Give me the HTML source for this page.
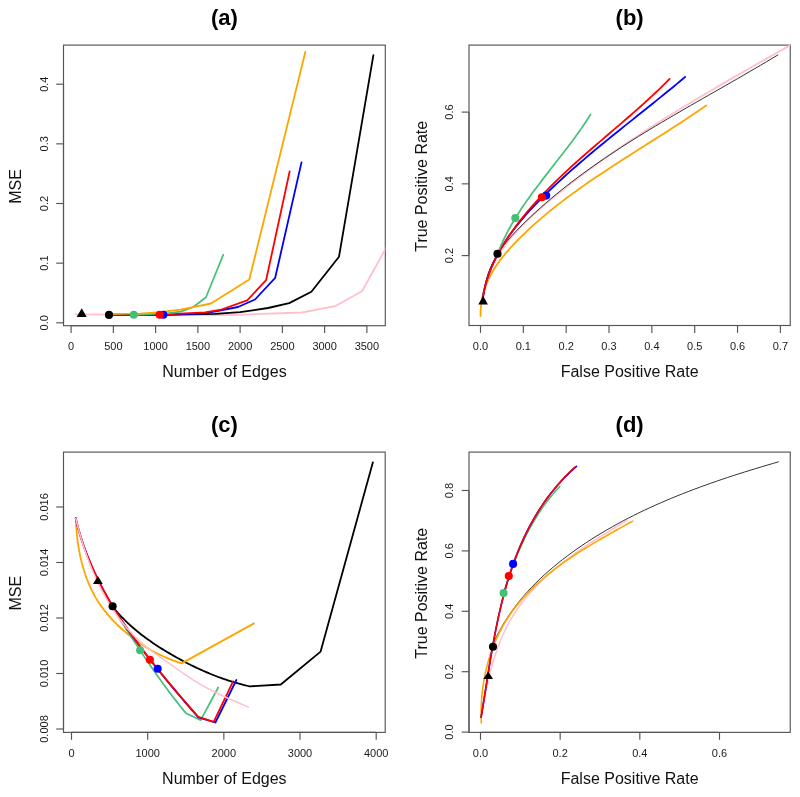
<!DOCTYPE html>
<html><head><meta charset="utf-8"><style>
html,body{margin:0;padding:0;background:#fff;width:800px;height:797px;overflow:hidden;}
svg{display:block;font-family:"Liberation Sans", sans-serif;will-change:transform;}
</style></head><body>
<svg width="800" height="797" viewBox="0 0 800 797" font-family='"Liberation Sans", sans-serif'>
<rect width="800" height="797" fill="#fff"/>
<clipPath id="ca"><rect x="63.5" y="45.1" width="321.8" height="280.6"/></clipPath>
<rect x="63.5" y="45.1" width="321.8" height="280.6" fill="none" stroke="#555555" stroke-width="1.15"/>
<path d="M71.1 325.7 H366.88" stroke="#555555" stroke-width="1.15"/>
<path d="M71.1 325.7 V333.1" stroke="#555555" stroke-width="1.15"/>
<text x="71.1" y="350.1" font-size="11" text-anchor="middle" font-weight="normal" fill="#1a1a1a">0</text>
<path d="M113.35 325.7 V333.1" stroke="#555555" stroke-width="1.15"/>
<text x="113.35" y="350.1" font-size="11" text-anchor="middle" font-weight="normal" fill="#1a1a1a">500</text>
<path d="M155.61 325.7 V333.1" stroke="#555555" stroke-width="1.15"/>
<text x="155.61" y="350.1" font-size="11" text-anchor="middle" font-weight="normal" fill="#1a1a1a">1000</text>
<path d="M197.87 325.7 V333.1" stroke="#555555" stroke-width="1.15"/>
<text x="197.87" y="350.1" font-size="11" text-anchor="middle" font-weight="normal" fill="#1a1a1a">1500</text>
<path d="M240.12 325.7 V333.1" stroke="#555555" stroke-width="1.15"/>
<text x="240.12" y="350.1" font-size="11" text-anchor="middle" font-weight="normal" fill="#1a1a1a">2000</text>
<path d="M282.38 325.7 V333.1" stroke="#555555" stroke-width="1.15"/>
<text x="282.38" y="350.1" font-size="11" text-anchor="middle" font-weight="normal" fill="#1a1a1a">2500</text>
<path d="M324.63 325.7 V333.1" stroke="#555555" stroke-width="1.15"/>
<text x="324.63" y="350.1" font-size="11" text-anchor="middle" font-weight="normal" fill="#1a1a1a">3000</text>
<path d="M366.88 325.7 V333.1" stroke="#555555" stroke-width="1.15"/>
<text x="366.88" y="350.1" font-size="11" text-anchor="middle" font-weight="normal" fill="#1a1a1a">3500</text>
<path d="M63.5 322.8 V84.2" stroke="#555555" stroke-width="1.15"/>
<path d="M63.5 322.8 H56.2" stroke="#555555" stroke-width="1.15"/>
<text x="0" y="0" transform="translate(47.5 322.8) rotate(-90)" font-size="11" text-anchor="middle" font-weight="normal" fill="#1a1a1a">0.0</text>
<path d="M63.5 263.15 H56.2" stroke="#555555" stroke-width="1.15"/>
<text x="0" y="0" transform="translate(47.5 263.15) rotate(-90)" font-size="11" text-anchor="middle" font-weight="normal" fill="#1a1a1a">0.1</text>
<path d="M63.5 203.5 H56.2" stroke="#555555" stroke-width="1.15"/>
<text x="0" y="0" transform="translate(47.5 203.5) rotate(-90)" font-size="11" text-anchor="middle" font-weight="normal" fill="#1a1a1a">0.2</text>
<path d="M63.5 143.85 H56.2" stroke="#555555" stroke-width="1.15"/>
<text x="0" y="0" transform="translate(47.5 143.85) rotate(-90)" font-size="11" text-anchor="middle" font-weight="normal" fill="#1a1a1a">0.3</text>
<path d="M63.5 84.2 H56.2" stroke="#555555" stroke-width="1.15"/>
<text x="0" y="0" transform="translate(47.5 84.2) rotate(-90)" font-size="11" text-anchor="middle" font-weight="normal" fill="#1a1a1a">0.4</text>
<text x="224.4" y="25.4" font-size="22" text-anchor="middle" font-weight="bold" fill="#000">(a)</text>
<text x="224.4" y="377" font-size="16" text-anchor="middle" font-weight="normal" fill="#111">Number of Edges</text>
<text x="0" y="0" transform="translate(21 186.4) rotate(-90)" font-size="16" text-anchor="middle" font-weight="normal" fill="#111">MSE</text>
<path d="M75.3 314.3 L160 314.8 L230 315 L302 312.5 L335 306.2 L362 291.2 L395 232" fill="none" stroke="#ffc0cb" stroke-width="1.8" stroke-linejoin="round" stroke-linecap="round" clip-path="url(#ca)"/>
<path d="M109 314.9 L160 314.8 L215 313.8 L240 312.2 L268 308 L289.2 303.1 L311.4 291.8 L339 256.7 L373.4 55.1" fill="none" stroke="#000000" stroke-width="1.8" stroke-linejoin="round" stroke-linecap="round"/>
<path d="M163.4 314.8 L205 313.3 L238 307 L255 299.5 L275.2 277.8 L301.5 162.4" fill="none" stroke="#0000ff" stroke-width="1.8" stroke-linejoin="round" stroke-linecap="round"/>
<path d="M159.7 314.8 L180 313.6 L205 312.3 L220 310 L247.2 300.3 L266.1 280.2 L289.7 171.3" fill="none" stroke="#ff0000" stroke-width="1.8" stroke-linejoin="round" stroke-linecap="round"/>
<path d="M133.8 314.8 L166.9 313.4 L180.6 311.6 L193 307.2 L206 297.3 L223.2 254.9" fill="none" stroke="#45bf77" stroke-width="1.7" stroke-linejoin="round" stroke-linecap="round"/>
<path d="M109 314 L140 313.6 L160 312.2 L180.6 309.6 L194.4 306.8 L210.9 303.5 L249.3 279.5 L305.4 51.7" fill="none" stroke="#ffa500" stroke-width="1.8" stroke-linejoin="round" stroke-linecap="round"/>
<path d="M76.7 317 L86.7 317 L81.7 308.2 Z" fill="#000"/>
<circle cx="109" cy="314.9" r="4.05" fill="#000000"/>
<circle cx="133.8" cy="314.8" r="4.05" fill="#45bf77"/>
<circle cx="163.4" cy="314.8" r="4.05" fill="#0000ff"/>
<circle cx="159.7" cy="314.8" r="4.05" fill="#ff0000"/>
<clipPath id="cb"><rect x="469" y="45.1" width="321.25" height="280.4"/></clipPath>
<rect x="469" y="45.1" width="321.25" height="280.4" fill="none" stroke="#555555" stroke-width="1.15"/>
<path d="M480.5 325.5 H780.38" stroke="#555555" stroke-width="1.15"/>
<path d="M480.5 325.5 V332.9" stroke="#555555" stroke-width="1.15"/>
<text x="480.5" y="349.9" font-size="11" text-anchor="middle" font-weight="normal" fill="#1a1a1a">0.0</text>
<path d="M523.34 325.5 V332.9" stroke="#555555" stroke-width="1.15"/>
<text x="523.34" y="349.9" font-size="11" text-anchor="middle" font-weight="normal" fill="#1a1a1a">0.1</text>
<path d="M566.18 325.5 V332.9" stroke="#555555" stroke-width="1.15"/>
<text x="566.18" y="349.9" font-size="11" text-anchor="middle" font-weight="normal" fill="#1a1a1a">0.2</text>
<path d="M609.02 325.5 V332.9" stroke="#555555" stroke-width="1.15"/>
<text x="609.02" y="349.9" font-size="11" text-anchor="middle" font-weight="normal" fill="#1a1a1a">0.3</text>
<path d="M651.86 325.5 V332.9" stroke="#555555" stroke-width="1.15"/>
<text x="651.86" y="349.9" font-size="11" text-anchor="middle" font-weight="normal" fill="#1a1a1a">0.4</text>
<path d="M694.7 325.5 V332.9" stroke="#555555" stroke-width="1.15"/>
<text x="694.7" y="349.9" font-size="11" text-anchor="middle" font-weight="normal" fill="#1a1a1a">0.5</text>
<path d="M737.54 325.5 V332.9" stroke="#555555" stroke-width="1.15"/>
<text x="737.54" y="349.9" font-size="11" text-anchor="middle" font-weight="normal" fill="#1a1a1a">0.6</text>
<path d="M780.38 325.5 V332.9" stroke="#555555" stroke-width="1.15"/>
<text x="780.38" y="349.9" font-size="11" text-anchor="middle" font-weight="normal" fill="#1a1a1a">0.7</text>
<path d="M469 255.6 V112.1" stroke="#555555" stroke-width="1.15"/>
<path d="M469 255.6 H461.7" stroke="#555555" stroke-width="1.15"/>
<text x="0" y="0" transform="translate(453 255.6) rotate(-90)" font-size="11" text-anchor="middle" font-weight="normal" fill="#1a1a1a">0.2</text>
<path d="M469 183.85 H461.7" stroke="#555555" stroke-width="1.15"/>
<text x="0" y="0" transform="translate(453 183.85) rotate(-90)" font-size="11" text-anchor="middle" font-weight="normal" fill="#1a1a1a">0.4</text>
<path d="M469 112.1 H461.7" stroke="#555555" stroke-width="1.15"/>
<text x="0" y="0" transform="translate(453 112.1) rotate(-90)" font-size="11" text-anchor="middle" font-weight="normal" fill="#1a1a1a">0.6</text>
<text x="629.62" y="25.4" font-size="22" text-anchor="middle" font-weight="bold" fill="#000">(b)</text>
<text x="629.62" y="376.8" font-size="16" text-anchor="middle" font-weight="normal" fill="#111">False Positive Rate</text>
<text x="0" y="0" transform="translate(426.5 186.3) rotate(-90)" font-size="16" text-anchor="middle" font-weight="normal" fill="#111">True Positive Rate</text>
<path d="M480.53 316.06 L480.62 310.26 L481.12 304.62 L481.98 299.15 L483.2 293.84 L484.75 288.69 L486.61 283.68 L488.76 278.81 L491.17 274.08 L493.84 269.49 L496.72 265.02 L499.8 260.67 L503.07 256.43 L506.49 252.29 L510.04 248.24 L513.7 244.28 L517.46 240.39 L521.28 236.57 L525.16 232.81 L529.09 229.11 L533.07 225.46 L537.1 221.87 L541.17 218.33 L545.29 214.84 L549.46 211.4 L553.66 208.01 L557.9 204.66 L562.18 201.35 L566.5 198.09 L570.84 194.86 L575.22 191.66 L579.62 188.5 L584.05 185.37 L588.51 182.28 L592.98 179.21 L597.48 176.16 L602 173.14 L606.53 170.14 L611.07 167.16 L615.63 164.2 L620.2 161.25 L624.77 158.32 L629.36 155.4 L633.94 152.48 L638.53 149.58 L643.12 146.68 L647.7 143.78 L652.29 140.88 L656.86 137.98 L661.43 135.08 L665.99 132.18 L670.53 129.26 L675.06 126.34 L679.58 123.41 L684.07 120.46 L688.55 117.49 L693 114.51 L697.43 111.51 L701.83 108.49 L706.21 105.45" fill="none" stroke="#ffa500" stroke-width="1.8" stroke-linejoin="round" stroke-linecap="round"/>
<path d="M482.31 302.07 L483.32 294.73 L484.78 287.67 L486.68 280.85 L488.98 274.27 L491.67 267.93 L494.71 261.79 L498.08 255.86 L501.76 250.12 L505.72 244.56 L509.94 239.16 L514.4 233.92 L519.06 228.81 L523.9 223.83 L528.9 218.97 L534.03 214.21 L539.27 209.53 L544.6 204.93 L549.98 200.4 L555.39 195.92 L560.85 191.49 L566.34 187.11 L571.86 182.78 L577.41 178.5 L582.99 174.26 L588.6 170.07 L594.25 165.92 L599.92 161.81 L605.61 157.75 L611.34 153.72 L617.08 149.73 L622.86 145.79 L628.65 141.87 L634.47 137.99 L640.31 134.15 L646.17 130.34 L652.05 126.55 L657.94 122.8 L663.86 119.08 L669.79 115.38 L675.74 111.71 L681.7 108.06 L687.67 104.44 L693.66 100.84 L699.65 97.26 L705.66 93.7 L711.68 90.16 L717.71 86.63 L723.74 83.12 L729.78 79.63 L735.83 76.15 L741.88 72.68 L747.94 69.22 L753.99 65.77 L760.05 62.33 L766.12 58.89 L772.18 55.47 L778.24 52.04 L784.29 48.62 L790.35 45.2" fill="none" stroke="#ffc0cb" stroke-width="1.8" stroke-linejoin="round" stroke-linecap="round" clip-path="url(#cb)"/>
<path d="M483.12 302.27 L483.61 295.29 L484.54 288.44 L485.91 281.74 L487.71 275.23 L489.96 268.91 L492.65 262.82 L495.78 256.98 L499.32 251.37 L503.21 245.97 L507.4 240.77 L511.83 235.72 L516.43 230.8 L521.16 225.99 L525.95 221.26 L530.82 216.61 L535.74 212.04 L540.73 207.53 L545.77 203.1 L550.87 198.74 L556.03 194.44 L561.24 190.21 L566.49 186.03 L571.8 181.92 L577.15 177.87 L582.54 173.87 L587.98 169.92 L593.46 166.02 L598.98 162.18 L604.53 158.38 L610.11 154.62 L615.73 150.9 L621.38 147.23 L627.05 143.59 L632.75 139.99 L638.48 136.42 L644.23 132.88 L649.99 129.37 L655.78 125.89 L661.58 122.43 L667.4 118.99 L673.22 115.58 L679.06 112.18 L684.9 108.79 L690.75 105.42 L696.61 102.06 L702.46 98.71 L708.32 95.37 L714.17 92.03 L720.02 88.69 L725.86 85.36 L731.69 82.02 L737.52 78.67 L743.33 75.32 L749.12 71.96 L754.9 68.59 L760.66 65.21 L766.4 61.81 L772.12 58.39 L777.82 54.96" fill="none" stroke="#333" stroke-width="1.0" stroke-linejoin="round" stroke-linecap="round"/>
<path d="M482.35 302.07 L483.06 296.65 L484 291.34 L485.16 286.13 L486.53 281.02 L488.11 276.01 L489.88 271.1 L491.84 266.27 L493.97 261.54 L496.27 256.89 L498.72 252.32 L501.31 247.84 L504.05 243.43 L506.91 239.09 L509.89 234.82 L512.97 230.62 L516.16 226.49 L519.44 222.41 L522.81 218.39 L526.26 214.43 L529.78 210.52 L533.37 206.66 L537.02 202.85 L540.72 199.08 L544.47 195.35 L548.25 191.66 L552.07 188.01 L555.91 184.39 L559.78 180.8 L563.68 177.24 L567.6 173.7 L571.53 170.2 L575.49 166.72 L579.47 163.26 L583.47 159.83 L587.48 156.42 L591.51 153.03 L595.55 149.65 L599.6 146.29 L603.66 142.95 L607.74 139.62 L611.82 136.3 L615.91 132.99 L620 129.69 L624.1 126.4 L628.2 123.12 L632.31 119.84 L636.41 116.56 L640.52 113.28 L644.62 110.01 L648.71 106.73 L652.81 103.45 L656.89 100.16 L660.97 96.87 L665.04 93.57 L669.1 90.26 L673.15 86.95 L677.18 83.62 L681.2 80.27 L685.21 76.91" fill="none" stroke="#0000ff" stroke-width="1.8" stroke-linejoin="round" stroke-linecap="round"/>
<path d="M482.22 302.02 L482.91 296.87 L483.81 291.81 L484.93 286.83 L486.25 281.94 L487.76 277.13 L489.45 272.4 L491.31 267.75 L493.32 263.17 L495.49 258.66 L497.79 254.22 L500.21 249.85 L502.75 245.54 L505.4 241.3 L508.14 237.11 L510.96 232.98 L513.86 228.91 L516.83 224.88 L519.87 220.91 L522.97 216.99 L526.15 213.11 L529.38 209.28 L532.67 205.5 L536.02 201.75 L539.42 198.05 L542.87 194.38 L546.36 190.75 L549.9 187.15 L553.48 183.59 L557.11 180.05 L560.76 176.54 L564.45 173.06 L568.17 169.61 L571.92 166.18 L575.69 162.77 L579.48 159.38 L583.29 156 L587.12 152.65 L590.96 149.3 L594.81 145.97 L598.67 142.65 L602.53 139.33 L606.4 136.02 L610.26 132.72 L614.12 129.42 L617.97 126.12 L621.81 122.82 L625.65 119.51 L629.46 116.21 L633.26 112.89 L637.03 109.57 L640.79 106.23 L644.51 102.89 L648.21 99.53 L651.87 96.15 L655.5 92.75 L659.09 89.34 L662.64 85.91 L666.15 82.45 L669.61 78.96" fill="none" stroke="#ff0000" stroke-width="1.8" stroke-linejoin="round" stroke-linecap="round"/>
<path d="M497.53 253.82 L498.58 251.14 L499.67 248.48 L500.79 245.85 L501.96 243.23 L503.15 240.64 L504.39 238.07 L505.65 235.52 L506.95 232.98 L508.28 230.47 L509.64 227.98 L511.03 225.5 L512.45 223.04 L513.9 220.59 L515.37 218.17 L516.86 215.75 L518.38 213.35 L519.92 210.97 L521.48 208.59 L523.07 206.23 L524.67 203.88 L526.29 201.55 L527.93 199.22 L529.58 196.9 L531.25 194.59 L532.93 192.29 L534.62 190 L536.33 187.71 L538.05 185.43 L539.77 183.16 L541.51 180.89 L543.25 178.63 L545 176.37 L546.75 174.11 L548.51 171.86 L550.27 169.6 L552.03 167.35 L553.8 165.1 L555.56 162.85 L557.32 160.6 L559.08 158.35 L560.84 156.09 L562.59 153.83 L564.34 151.57 L566.07 149.31 L567.81 147.04 L569.53 144.76 L571.24 142.48 L572.94 140.19 L574.63 137.9 L576.3 135.6 L577.96 133.28 L579.61 130.96 L581.24 128.63 L582.85 126.29 L584.44 123.94 L586.01 121.57 L587.57 119.2 L589.1 116.81 L590.6 114.4" fill="none" stroke="#45bf77" stroke-width="1.7" stroke-linejoin="round" stroke-linecap="round"/>
<path d="M478.3 304.4 L487.9 304.4 L483.1 295.8 Z" fill="#000"/>
<circle cx="497.5" cy="253.8" r="4.05" fill="#000000"/>
<circle cx="515.3" cy="218.1" r="4.05" fill="#45bf77"/>
<circle cx="546.2" cy="195.6" r="4.05" fill="#0000ff"/>
<circle cx="541.9" cy="197.2" r="4.05" fill="#ff0000"/>
<clipPath id="cc"><rect x="63.5" y="452.1" width="321.7" height="280.3"/></clipPath>
<rect x="63.5" y="452.1" width="321.7" height="280.3" fill="none" stroke="#555555" stroke-width="1.15"/>
<path d="M71.5 732.4 H376.2" stroke="#555555" stroke-width="1.15"/>
<path d="M71.5 732.4 V739.8" stroke="#555555" stroke-width="1.15"/>
<text x="71.5" y="756.8" font-size="11" text-anchor="middle" font-weight="normal" fill="#1a1a1a">0</text>
<path d="M147.68 732.4 V739.8" stroke="#555555" stroke-width="1.15"/>
<text x="147.68" y="756.8" font-size="11" text-anchor="middle" font-weight="normal" fill="#1a1a1a">1000</text>
<path d="M223.85 732.4 V739.8" stroke="#555555" stroke-width="1.15"/>
<text x="223.85" y="756.8" font-size="11" text-anchor="middle" font-weight="normal" fill="#1a1a1a">2000</text>
<path d="M300.02 732.4 V739.8" stroke="#555555" stroke-width="1.15"/>
<text x="300.02" y="756.8" font-size="11" text-anchor="middle" font-weight="normal" fill="#1a1a1a">3000</text>
<path d="M376.2 732.4 V739.8" stroke="#555555" stroke-width="1.15"/>
<text x="376.2" y="756.8" font-size="11" text-anchor="middle" font-weight="normal" fill="#1a1a1a">4000</text>
<path d="M63.5 729 V507" stroke="#555555" stroke-width="1.15"/>
<path d="M63.5 729 H56.2" stroke="#555555" stroke-width="1.15"/>
<text x="0" y="0" transform="translate(47.5 729) rotate(-90)" font-size="11" text-anchor="middle" font-weight="normal" fill="#1a1a1a">0.008</text>
<path d="M63.5 673.5 H56.2" stroke="#555555" stroke-width="1.15"/>
<text x="0" y="0" transform="translate(47.5 673.5) rotate(-90)" font-size="11" text-anchor="middle" font-weight="normal" fill="#1a1a1a">0.010</text>
<path d="M63.5 618 H56.2" stroke="#555555" stroke-width="1.15"/>
<text x="0" y="0" transform="translate(47.5 618) rotate(-90)" font-size="11" text-anchor="middle" font-weight="normal" fill="#1a1a1a">0.012</text>
<path d="M63.5 562.5 H56.2" stroke="#555555" stroke-width="1.15"/>
<text x="0" y="0" transform="translate(47.5 562.5) rotate(-90)" font-size="11" text-anchor="middle" font-weight="normal" fill="#1a1a1a">0.014</text>
<path d="M63.5 507 H56.2" stroke="#555555" stroke-width="1.15"/>
<text x="0" y="0" transform="translate(47.5 507) rotate(-90)" font-size="11" text-anchor="middle" font-weight="normal" fill="#1a1a1a">0.016</text>
<text x="224.35" y="432.4" font-size="22" text-anchor="middle" font-weight="bold" fill="#000">(c)</text>
<text x="224.35" y="783.7" font-size="16" text-anchor="middle" font-weight="normal" fill="#111">Number of Edges</text>
<text x="0" y="0" transform="translate(21 593.25) rotate(-90)" font-size="16" text-anchor="middle" font-weight="normal" fill="#111">MSE</text>
<path d="M112.51 606.44 L114.23 608.58 L116 610.69 L117.8 612.76 L119.63 614.79 L121.5 616.78 L123.4 618.74 L125.33 620.67 L127.29 622.56 L129.28 624.42 L131.3 626.24 L133.34 628.04 L135.42 629.8 L137.52 631.53 L139.64 633.24 L141.78 634.92 L143.95 636.57 L146.14 638.19 L148.36 639.79 L150.59 641.36 L152.84 642.91 L155.11 644.43 L157.39 645.93 L159.69 647.42 L162.01 648.87 L164.34 650.31 L166.68 651.73 L169.04 653.14 L171.41 654.52 L173.79 655.89 L176.17 657.24 L178.57 658.57 L180.98 659.88 L183.4 661.17 L185.83 662.45 L188.27 663.7 L190.72 664.93 L193.18 666.14 L195.64 667.33 L198.12 668.5 L200.61 669.64 L203.11 670.76 L205.61 671.86 L208.13 672.93 L210.66 673.98 L213.19 675 L215.73 676 L218.29 676.97 L220.85 677.91 L223.42 678.83 L226 679.72 L228.58 680.58 L231.18 681.41 L233.78 682.21 L236.4 682.98 L239.02 683.72 L241.65 684.43 L244.28 685.1 L246.93 685.75 L249.58 686.36 L280.8 684.5 L320.6 651.6 L372.9 462.3" fill="none" stroke="#000000" stroke-width="1.8" stroke-linejoin="round" stroke-linecap="round"/>
<path d="M75.81 518.3 L75.94 521.54 L76.11 524.79 L76.33 528.05 L76.59 531.31 L76.9 534.57 L77.26 537.83 L77.66 541.09 L78.12 544.34 L78.63 547.59 L79.19 550.83 L79.81 554.06 L80.49 557.27 L81.23 560.47 L82.02 563.65 L82.88 566.81 L83.81 569.95 L84.79 573.07 L85.85 576.15 L86.97 579.21 L88.17 582.24 L89.44 585.24 L90.78 588.2 L92.19 591.12 L93.68 594.01 L95.25 596.85 L96.9 599.65 L98.63 602.4 L100.44 605.11 L102.34 607.76 L104.32 610.37 L106.36 612.93 L108.48 615.43 L110.67 617.89 L112.91 620.3 L115.21 622.66 L117.56 624.98 L119.96 627.24 L122.4 629.46 L124.88 631.63 L127.39 633.76 L129.94 635.83 L132.52 637.86 L135.13 639.83 L137.78 641.74 L140.46 643.6 L143.18 645.4 L145.94 647.14 L148.73 648.81 L151.55 650.42 L154.41 651.96 L157.3 653.45 L160.22 654.88 L163.18 656.26 L166.17 657.57 L169.19 658.84 L172.24 660.05 L175.31 661.21 L178.42 662.32 L181.56 663.38 L254 623.4" fill="none" stroke="#ffa500" stroke-width="1.8" stroke-linejoin="round" stroke-linecap="round"/>
<path d="M115.13 611.92 L116.27 613.68 L117.4 615.44 L118.54 617.21 L119.68 618.97 L120.81 620.74 L121.95 622.5 L123.09 624.26 L124.22 626.03 L125.36 627.79 L126.5 629.55 L127.64 631.32 L128.78 633.08 L129.92 634.84 L131.07 636.6 L132.21 638.36 L133.36 640.12 L134.51 641.87 L135.66 643.63 L136.81 645.38 L137.97 647.14 L139.12 648.89 L140.28 650.64 L141.44 652.38 L142.61 654.13 L143.77 655.88 L144.94 657.62 L146.12 659.36 L147.29 661.1 L148.47 662.83 L149.66 664.57 L150.84 666.3 L152.03 668.02 L153.23 669.75 L154.43 671.47 L155.63 673.19 L156.84 674.91 L158.05 676.62 L159.26 678.33 L160.48 680.04 L161.71 681.74 L162.94 683.44 L164.17 685.14 L165.42 686.83 L166.66 688.52 L167.91 690.21 L169.17 691.89 L170.43 693.57 L171.7 695.24 L172.98 696.91 L174.26 698.57 L175.55 700.23 L176.84 701.89 L178.14 703.54 L179.45 705.19 L180.76 706.83 L182.08 708.46 L183.41 710.09 L184.75 711.72 L186.09 713.34 L200.7 720.2 L218.2 687.5" fill="none" stroke="#45bf77" stroke-width="1.7" stroke-linejoin="round" stroke-linecap="round"/>
<path d="M75.67 518.24 L76.61 522.16 L77.62 526.06 L78.68 529.93 L79.8 533.79 L80.98 537.63 L82.22 541.44 L83.51 545.24 L84.85 549.01 L86.25 552.77 L87.7 556.5 L89.2 560.21 L90.75 563.9 L92.35 567.57 L93.99 571.21 L95.69 574.84 L97.43 578.44 L99.21 582.02 L101.04 585.58 L102.9 589.11 L104.81 592.63 L106.76 596.12 L108.75 599.6 L110.77 603.05 L112.83 606.48 L114.93 609.9 L117.05 613.29 L119.21 616.66 L121.4 620.02 L123.62 623.36 L125.86 626.67 L128.14 629.97 L130.44 633.26 L132.76 636.52 L135.11 639.77 L137.47 643.01 L139.86 646.23 L142.27 649.44 L144.7 652.63 L147.14 655.81 L149.6 658.98 L152.07 662.14 L154.56 665.29 L157.06 668.43 L159.57 671.56 L162.09 674.68 L164.62 677.79 L167.16 680.89 L169.71 683.98 L172.28 687.06 L174.85 690.13 L177.43 693.2 L180.02 696.25 L182.61 699.29 L185.22 702.33 L187.84 705.35 L190.46 708.37 L193.1 711.37 L195.74 714.37 L198.39 717.35 L215.4 722.5 L236.4 680" fill="none" stroke="#0000ff" stroke-width="1.8" stroke-linejoin="round" stroke-linecap="round"/>
<path d="M75.68 518.25 L76.62 522.16 L77.61 526.05 L78.67 529.92 L79.78 533.77 L80.96 537.6 L82.19 541.41 L83.48 545.19 L84.82 548.95 L86.21 552.7 L87.66 556.42 L89.16 560.12 L90.71 563.8 L92.31 567.45 L93.96 571.09 L95.65 574.71 L97.38 578.3 L99.16 581.88 L100.99 585.43 L102.85 588.97 L104.76 592.48 L106.7 595.98 L108.68 599.45 L110.7 602.9 L112.75 606.33 L114.83 609.75 L116.95 613.14 L119.1 616.51 L121.28 619.87 L123.49 623.2 L125.73 626.52 L127.99 629.81 L130.28 633.09 L132.6 636.35 L134.93 639.59 L137.29 642.82 L139.68 646.03 L142.08 649.23 L144.51 652.41 L146.95 655.58 L149.41 658.74 L151.89 661.88 L154.38 665.01 L156.89 668.13 L159.41 671.24 L161.94 674.34 L164.49 677.43 L167.04 680.51 L169.61 683.58 L172.18 686.64 L174.77 689.7 L177.36 692.75 L179.95 695.79 L182.55 698.83 L185.15 701.86 L187.76 704.89 L190.37 707.91 L192.98 710.93 L195.58 713.95 L198.19 716.96 L213.7 721.9 L233.1 681.4" fill="none" stroke="#ff0000" stroke-width="1.8" stroke-linejoin="round" stroke-linecap="round"/>
<path d="M75.76 518.41 L76.84 522.73 L77.97 527.06 L79.15 531.4 L80.38 535.74 L81.66 540.09 L83.01 544.43 L84.41 548.76 L85.87 553.08 L87.4 557.39 L88.99 561.68 L90.64 565.96 L92.36 570.2 L94.15 574.42 L96.01 578.61 L97.94 582.76 L99.94 586.87 L102.02 590.94 L104.17 594.96 L106.4 598.93 L108.72 602.85 L111.11 606.71 L113.59 610.52 L116.15 614.25 L118.8 617.92 L121.54 621.52 L124.37 625.05 L127.29 628.49 L130.3 631.85 L133.41 635.13 L136.61 638.32 L139.92 641.41 L143.32 644.41 L146.82 647.31 L150.42 650.11 L154.09 652.84 L157.81 655.51 L161.57 658.14 L165.34 660.75 L169.1 663.36 L172.85 665.98 L176.56 668.61 L180.27 671.24 L183.98 673.85 L187.71 676.41 L191.47 678.91 L195.29 681.33 L199.17 683.66 L203.11 685.91 L207.09 688.08 L211.12 690.18 L215.19 692.22 L219.29 694.21 L223.42 696.15 L227.56 698.04 L231.73 699.9 L235.9 701.74 L240.08 703.56 L244.26 705.36 L248.42 707.16" fill="none" stroke="#ffc0cb" stroke-width="1.5" stroke-linejoin="round" stroke-linecap="round"/>
<path d="M93 584.1 L102.8 584.1 L97.9 575.9 Z" fill="#000"/>
<circle cx="112.6" cy="606.3" r="4.05" fill="#000000"/>
<circle cx="140.1" cy="650.2" r="4.05" fill="#45bf77"/>
<circle cx="149.9" cy="659.7" r="4.05" fill="#ff0000"/>
<circle cx="157.7" cy="668.8" r="4.05" fill="#0000ff"/>
<clipPath id="cd"><rect x="469" y="452.1" width="321.25" height="280.3"/></clipPath>
<rect x="469" y="452.1" width="321.25" height="280.3" fill="none" stroke="#555555" stroke-width="1.15"/>
<path d="M480.5 732.4 H719.48" stroke="#555555" stroke-width="1.15"/>
<path d="M480.5 732.4 V739.8" stroke="#555555" stroke-width="1.15"/>
<text x="480.5" y="756.8" font-size="11" text-anchor="middle" font-weight="normal" fill="#1a1a1a">0.0</text>
<path d="M560.16 732.4 V739.8" stroke="#555555" stroke-width="1.15"/>
<text x="560.16" y="756.8" font-size="11" text-anchor="middle" font-weight="normal" fill="#1a1a1a">0.2</text>
<path d="M639.82 732.4 V739.8" stroke="#555555" stroke-width="1.15"/>
<text x="639.82" y="756.8" font-size="11" text-anchor="middle" font-weight="normal" fill="#1a1a1a">0.4</text>
<path d="M719.48 732.4 V739.8" stroke="#555555" stroke-width="1.15"/>
<text x="719.48" y="756.8" font-size="11" text-anchor="middle" font-weight="normal" fill="#1a1a1a">0.6</text>
<path d="M469 732.1 V490.5" stroke="#555555" stroke-width="1.15"/>
<path d="M469 732.1 H461.7" stroke="#555555" stroke-width="1.15"/>
<text x="0" y="0" transform="translate(453 732.1) rotate(-90)" font-size="11" text-anchor="middle" font-weight="normal" fill="#1a1a1a">0.0</text>
<path d="M469 671.7 H461.7" stroke="#555555" stroke-width="1.15"/>
<text x="0" y="0" transform="translate(453 671.7) rotate(-90)" font-size="11" text-anchor="middle" font-weight="normal" fill="#1a1a1a">0.2</text>
<path d="M469 611.3 H461.7" stroke="#555555" stroke-width="1.15"/>
<text x="0" y="0" transform="translate(453 611.3) rotate(-90)" font-size="11" text-anchor="middle" font-weight="normal" fill="#1a1a1a">0.4</text>
<path d="M469 550.9 H461.7" stroke="#555555" stroke-width="1.15"/>
<text x="0" y="0" transform="translate(453 550.9) rotate(-90)" font-size="11" text-anchor="middle" font-weight="normal" fill="#1a1a1a">0.6</text>
<path d="M469 490.5 H461.7" stroke="#555555" stroke-width="1.15"/>
<text x="0" y="0" transform="translate(453 490.5) rotate(-90)" font-size="11" text-anchor="middle" font-weight="normal" fill="#1a1a1a">0.8</text>
<text x="629.62" y="432.4" font-size="22" text-anchor="middle" font-weight="bold" fill="#000">(d)</text>
<text x="629.62" y="783.7" font-size="16" text-anchor="middle" font-weight="normal" fill="#111">False Positive Rate</text>
<text x="0" y="0" transform="translate(426.5 593.25) rotate(-90)" font-size="16" text-anchor="middle" font-weight="normal" fill="#111">True Positive Rate</text>
<path d="M492.07 646.46 L494.51 640.91 L497.12 635.47 L499.9 630.16 L502.84 624.96 L505.95 619.88 L509.2 614.91 L512.6 610.05 L516.14 605.3 L519.81 600.65 L523.61 596.12 L527.53 591.68 L531.57 587.34 L535.71 583.1 L539.96 578.95 L544.31 574.9 L548.75 570.94 L553.27 567.07 L557.87 563.28 L562.55 559.58 L567.29 555.96 L572.1 552.42 L576.96 548.96 L581.87 545.58 L586.83 542.27 L591.83 539.03 L596.89 535.86 L601.99 532.77 L607.13 529.74 L612.31 526.78 L617.53 523.88 L622.79 521.05 L628.08 518.29 L633.41 515.58 L638.77 512.93 L644.16 510.34 L649.58 507.81 L655.03 505.33 L660.5 502.91 L666 500.54 L671.52 498.22 L677.06 495.95 L682.62 493.73 L688.19 491.56 L693.78 489.43 L699.39 487.34 L705 485.29 L710.63 483.29 L716.27 481.33 L721.91 479.4 L727.55 477.51 L733.2 475.65 L738.86 473.83 L744.51 472.04 L750.16 470.28 L755.81 468.55 L761.45 466.85 L767.08 465.17 L772.71 463.52 L778.33 461.89" fill="none" stroke="#333" stroke-width="1.0" stroke-linejoin="round" stroke-linecap="round"/>
<path d="M480.87 717.37 L481.59 713.17 L482.32 708.95 L483.09 704.72 L483.89 700.46 L484.73 696.2 L485.6 691.93 L486.52 687.65 L487.48 683.37 L488.49 679.09 L489.55 674.82 L490.66 670.55 L491.83 666.3 L493.05 662.06 L494.35 657.84 L495.71 653.65 L497.14 649.49 L498.65 645.36 L500.23 641.27 L501.91 637.22 L503.67 633.23 L505.52 629.29 L507.47 625.41 L509.52 621.59 L511.67 617.84 L513.93 614.17 L516.29 610.56 L518.74 607.02 L521.29 603.54 L523.92 600.13 L526.65 596.79 L529.45 593.5 L532.34 590.27 L535.29 587.11 L538.33 584 L541.42 580.94 L544.59 577.94 L547.81 574.99 L551.1 572.1 L554.43 569.25 L557.82 566.45 L561.25 563.7 L564.73 560.99 L568.25 558.33 L571.8 555.7 L575.38 553.12 L579 550.58 L582.64 548.08 L586.3 545.61 L589.98 543.18 L593.68 540.78 L597.38 538.41 L601.1 536.08 L604.81 533.77 L608.53 531.49 L612.25 529.24 L615.96 527.01 L619.66 524.8 L623.34 522.62 L627.01 520.45" fill="none" stroke="#ffc0cb" stroke-width="1.5" stroke-linejoin="round" stroke-linecap="round"/>
<path d="M481.3 722.92 L481.14 718.33 L481.08 713.73 L481.14 709.13 L481.3 704.52 L481.57 699.91 L481.94 695.31 L482.43 690.72 L483.03 686.14 L483.73 681.57 L484.55 677.03 L485.47 672.52 L486.51 668.03 L487.66 663.58 L488.92 659.17 L490.29 654.79 L491.77 650.47 L493.36 646.19 L495.07 641.96 L496.89 637.8 L498.83 633.69 L500.88 629.65 L503.04 625.68 L505.31 621.79 L507.71 617.97 L510.21 614.22 L512.82 610.56 L515.54 606.97 L518.36 603.46 L521.27 600.01 L524.28 596.64 L527.37 593.33 L530.55 590.09 L533.8 586.91 L537.14 583.8 L540.54 580.75 L544.01 577.76 L547.54 574.82 L551.13 571.94 L554.77 569.11 L558.47 566.34 L562.21 563.62 L565.99 560.94 L569.81 558.31 L573.67 555.73 L577.55 553.19 L581.46 550.69 L585.38 548.23 L589.33 545.81 L593.29 543.42 L597.25 541.07 L601.22 538.75 L605.19 536.46 L609.16 534.2 L613.12 531.97 L617.06 529.77 L620.99 527.58 L624.9 525.42 L628.78 523.28 L632.63 521.16" fill="none" stroke="#ffa500" stroke-width="1.6" stroke-linejoin="round" stroke-linecap="round"/>
<path d="M503.47 593.02 L504.09 591.07 L504.71 589.12 L505.34 587.18 L505.98 585.23 L506.62 583.28 L507.28 581.33 L507.94 579.39 L508.61 577.44 L509.29 575.5 L509.98 573.56 L510.68 571.62 L511.39 569.68 L512.11 567.74 L512.84 565.81 L513.59 563.88 L514.34 561.96 L515.1 560.04 L515.87 558.12 L516.66 556.2 L517.45 554.29 L518.26 552.39 L519.08 550.49 L519.91 548.6 L520.76 546.71 L521.62 544.83 L522.49 542.95 L523.37 541.08 L524.27 539.22 L525.18 537.36 L526.1 535.51 L527.04 533.67 L527.99 531.84 L528.95 530.02 L529.93 528.2 L530.93 526.39 L531.94 524.6 L532.96 522.81 L534 521.03 L535.06 519.26 L536.13 517.5 L537.22 515.75 L538.33 514.02 L539.45 512.29 L540.58 510.58 L541.74 508.87 L542.91 507.18 L544.1 505.51 L545.31 503.84 L546.53 502.19 L547.77 500.55 L549.03 498.92 L550.31 497.31 L551.61 495.71 L552.93 494.12 L554.26 492.55 L555.62 491 L556.99 489.46 L558.38 487.94 L559.8 486.43" fill="none" stroke="#45bf77" stroke-width="1.5" stroke-linejoin="round" stroke-linecap="round"/>
<path d="M481.12 717.24 L481.86 712.78 L482.59 708.29 L483.32 703.79 L484.04 699.27 L484.75 694.74 L485.47 690.19 L486.19 685.63 L486.91 681.06 L487.64 676.48 L488.37 671.89 L489.11 667.3 L489.87 662.7 L490.64 658.09 L491.42 653.48 L492.22 648.88 L493.05 644.27 L493.89 639.66 L494.76 635.06 L495.65 630.46 L496.58 625.87 L497.53 621.28 L498.51 616.7 L499.53 612.14 L500.59 607.58 L501.68 603.04 L502.82 598.51 L503.99 594 L505.21 589.51 L506.48 585.03 L507.8 580.57 L509.17 576.14 L510.59 571.72 L512.06 567.34 L513.6 562.97 L515.19 558.64 L516.84 554.33 L518.56 550.05 L520.34 545.81 L522.19 541.59 L524.11 537.41 L526.1 533.27 L528.16 529.16 L530.3 525.09 L532.51 521.06 L534.81 517.07 L537.19 513.13 L539.65 509.22 L542.2 505.37 L544.83 501.56 L547.56 497.79 L550.37 494.08 L553.29 490.42 L556.29 486.81 L559.4 483.25 L562.61 479.75 L565.92 476.31 L569.33 472.92 L572.85 469.59 L576.48 466.32" fill="none" stroke="#0000ff" stroke-width="1.6" stroke-linejoin="round" stroke-linecap="round"/>
<path d="M481.11 717.31 L481.85 712.85 L482.58 708.37 L483.31 703.88 L484.03 699.37 L484.74 694.85 L485.46 690.32 L486.17 685.78 L486.89 681.23 L487.61 676.67 L488.34 672.1 L489.08 667.53 L489.83 662.96 L490.59 658.38 L491.36 653.8 L492.16 649.23 L492.97 644.65 L493.81 640.07 L494.66 635.5 L495.55 630.94 L496.46 626.38 L497.4 621.82 L498.37 617.28 L499.38 612.75 L500.42 608.22 L501.5 603.71 L502.62 599.21 L503.79 594.73 L505 590.27 L506.25 585.82 L507.55 581.39 L508.91 576.98 L510.31 572.59 L511.78 568.22 L513.29 563.88 L514.87 559.57 L516.51 555.28 L518.2 551.01 L519.97 546.78 L521.79 542.58 L523.69 538.41 L525.65 534.27 L527.69 530.17 L529.79 526.11 L531.98 522.08 L534.23 518.09 L536.57 514.14 L538.99 510.23 L541.48 506.37 L544.07 502.55 L546.73 498.77 L549.49 495.05 L552.33 491.37 L555.26 487.74 L558.29 484.16 L561.41 480.63 L564.62 477.16 L567.94 473.74 L571.35 470.38 L574.87 467.08" fill="none" stroke="#ff0000" stroke-width="1.6" stroke-linejoin="round" stroke-linecap="round"/>
<path d="M483.35 679 L493.05 679 L488.2 671.4 Z" fill="#000"/>
<circle cx="493" cy="646.7" r="4.05" fill="#000000"/>
<circle cx="503.6" cy="593.1" r="4.05" fill="#45bf77"/>
<circle cx="508.8" cy="576.1" r="4.05" fill="#ff0000"/>
<circle cx="513.1" cy="563.9" r="4.05" fill="#0000ff"/>
</svg>
</body></html>
